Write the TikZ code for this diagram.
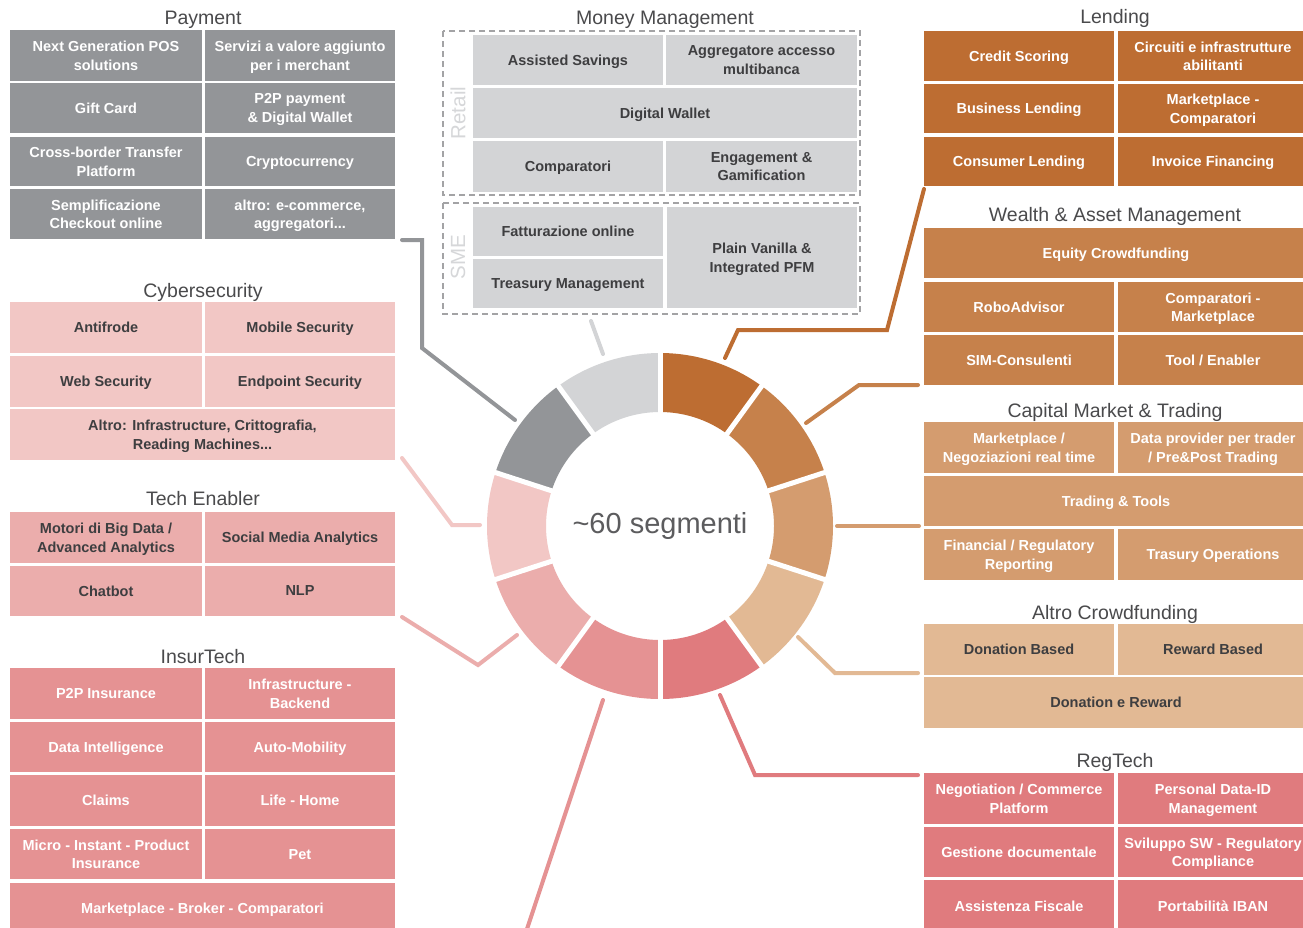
\documentclass[tikz,border=0pt]{standalone}
\usepackage{fontspec}
\setmainfont{Liberation Sans}
\definecolor{payC}{HTML}{939598}
\definecolor{monC}{HTML}{D3D4D6}
\definecolor{cybC}{HTML}{F2C7C5}
\definecolor{tecC}{HTML}{EBADAC}
\definecolor{insC}{HTML}{E59293}
\definecolor{lenC}{HTML}{BD6D32}
\definecolor{weaC}{HTML}{C6814B}
\definecolor{capC}{HTML}{D49C6F}
\definecolor{croC}{HTML}{E2B994}
\definecolor{regC}{HTML}{E07B7E}
\definecolor{txtD}{HTML}{3E3E40}
\definecolor{ttlC}{HTML}{4A4A4C}
\definecolor{zoneC}{HTML}{A3A3A5}
\definecolor{zoneT}{HTML}{D6D7D9}
% box from (x1,y1) to (x2,y2): style, name, x1, y1, x2, y2, text
\newcommand\bx[7]{%
  \pgfmathsetmacro\bxw{#5-#3}\pgfmathsetmacro\bxh{#6-#4}%
  \node[#1, anchor=north west, minimum width=\bxw pt, minimum height=\bxh pt] (#2) at (#3,#4) {#7};}
\begin{document}
\begin{tikzpicture}[x=1pt,y=-1pt,
  cell/.style={inner sep=0pt, outer sep=0pt, align=center, text depth=0pt,
    font=\bfseries\fontsize{14.5}{18.5}\selectfont},
  light/.style={cell, text=white},
  dark/.style={cell, text=txtD},
  grp/.style={anchor=base, text=ttlC, inner sep=0pt, font=\fontsize{19.5}{23}\selectfont},
  link/.style={line width=4pt, line cap=round, line join=miter},
  zone/.style={draw=zoneC, line width=1.3pt, dash pattern=on 6pt off 4pt},
  zonelbl/.style={text=zoneT, rotate=90, inner sep=0pt, font=\fontsize{20.5}{24}\selectfont}]
\useasboundingbox (0,0) rectangle (1303,927);
\fill[white] (0,0) rectangle (1303,927);

% ---------- Payment ----------
\node[grp] (tPay) at (203,24) {Payment};
\bx{light,fill=payC}{pay1}{10}{30}{202}{81}{Next Generation POS\\solutions}
\bx{light,fill=payC}{pay2}{205}{30}{395}{81}{Servizi a valore aggiunto\\per i merchant}
\bx{light,fill=payC}{pay3}{10}{83}{202}{133}{Gift Card}
\bx{light,fill=payC}{pay4}{205}{83}{395}{133}{P2P payment\\\& Digital Wallet}
\bx{light,fill=payC}{pay5}{10}{137}{202}{186}{Cross-border Transfer\\Platform}
\bx{light,fill=payC}{pay6}{205}{137}{395}{186}{Cryptocurrency}
\bx{light,fill=payC}{pay7}{10}{189}{202}{239}{Semplificazione\\Checkout online}
\bx{light,fill=payC}{pay8}{205}{189}{395}{239}{altro: e-commerce,\\aggregatori...}

% ---------- Cybersecurity ----------
\node[grp] (tCyb) at (203,297) {Cybersecurity};
\bx{dark,fill=cybC}{cyb1}{10}{302}{202}{353}{Antifrode}
\bx{dark,fill=cybC}{cyb2}{205}{302}{395}{353}{Mobile Security}
\bx{dark,fill=cybC}{cyb3}{10}{356}{202}{407}{Web Security}
\bx{dark,fill=cybC}{cyb4}{205}{356}{395}{407}{Endpoint Security}
\bx{dark,fill=cybC}{cyb5}{10}{409}{395}{460}{Altro: Infrastructure, Crittografia,\\Reading Machines...}

% ---------- Tech Enabler ----------
\node[grp] (tTec) at (203,505) {Tech Enabler};
\bx{dark,fill=tecC}{tec1}{10}{512}{202}{563}{Motori di Big Data /\\Advanced Analytics}
\bx{dark,fill=tecC}{tec2}{205}{512}{395}{563}{Social Media Analytics}
\bx{dark,fill=tecC}{tec3}{10}{566}{202}{616}{Chatbot}
\bx{dark,fill=tecC}{tec4}{205}{566}{395}{616}{NLP}

% ---------- InsurTech ----------
\node[grp] (tIns) at (203,663) {InsurTech};
\bx{light,fill=insC}{ins1}{10}{668}{202}{719}{P2P Insurance}
\bx{light,fill=insC}{ins2}{205}{668}{395}{719}{Infrastructure -\\Backend}
\bx{light,fill=insC}{ins3}{10}{722}{202}{772}{Data Intelligence}
\bx{light,fill=insC}{ins4}{205}{722}{395}{772}{Auto-Mobility}
\bx{light,fill=insC}{ins5}{10}{775}{202}{826}{Claims}
\bx{light,fill=insC}{ins6}{205}{775}{395}{826}{Life - Home}
\bx{light,fill=insC}{ins7}{10}{829}{202}{879}{Micro - Instant - Product\\Insurance}
\bx{light,fill=insC}{ins8}{205}{829}{395}{879}{Pet}
\bx{light,fill=insC}{ins9}{10}{883}{395}{933}{Marketplace - Broker - Comparatori}

% ---------- Money Management ----------
\node[grp] (tMon) at (665,24) {Money Management};
\draw[zone] (443,31) rectangle (860,195);
\draw[zone] (443,203) rectangle (860,314);
\node[zonelbl] (lRet) at (458,113) {Retail};
\node[zonelbl] (lSme) at (458,257) {SME};
\bx{dark,fill=monC}{mon1}{473}{35}{663}{85}{Assisted Savings}
\bx{dark,fill=monC}{mon2}{666}{35}{857}{85}{Aggregatore accesso\\multibanca}
\bx{dark,fill=monC}{mon3}{473}{88}{857}{138}{Digital Wallet}
\bx{dark,fill=monC}{mon4}{473}{141}{663}{192}{Comparatori}
\bx{dark,fill=monC}{mon5}{666}{141}{857}{192}{Engagement \&\\Gamification}
\bx{dark,fill=monC}{mon6}{473}{207}{663}{256}{Fatturazione online}
\bx{dark,fill=monC}{mon7}{473}{259}{663}{308}{Treasury Management}
\bx{dark,fill=monC}{mon8}{667}{207}{857}{308}{Plain Vanilla \&\\Integrated PFM}

% ---------- Lending ----------
\node[grp] (tLen) at (1115,23) {Lending};
\bx{light,fill=lenC}{len1}{924}{31}{1114}{81}{Credit Scoring}
\bx{light,fill=lenC}{len2}{1118}{31}{1308}{81}{Circuiti e infrastrutture\\abilitanti}
\bx{light,fill=lenC}{len3}{924}{84}{1114}{133}{Business Lending}
\bx{light,fill=lenC}{len4}{1118}{84}{1308}{133}{Marketplace -\\Comparatori}
\bx{light,fill=lenC}{len5}{924}{137}{1114}{186}{Consumer Lending}
\bx{light,fill=lenC}{len6}{1118}{137}{1308}{186}{Invoice Financing}

% ---------- Wealth & Asset Management ----------
\node[grp] (tWea) at (1115,221) {Wealth \& Asset Management};
\bx{light,fill=weaC}{wea1}{924}{228}{1308}{278}{Equity Crowdfunding}
\bx{light,fill=weaC}{wea2}{924}{282}{1114}{332}{RoboAdvisor}
\bx{light,fill=weaC}{wea3}{1118}{282}{1308}{332}{Comparatori -\\Marketplace}
\bx{light,fill=weaC}{wea4}{924}{335}{1114}{385}{SIM-Consulenti}
\bx{light,fill=weaC}{wea5}{1118}{335}{1308}{385}{Tool / Enabler}

% ---------- Capital Market & Trading ----------
\node[grp] (tCap) at (1115,417) {Capital Market \& Trading};
\bx{light,fill=capC}{cap1}{924}{422}{1114}{473}{Marketplace /\\Negoziazioni real time}
\bx{light,fill=capC}{cap2}{1118}{422}{1308}{473}{Data provider per trader\\/ Pre\&Post Trading}
\bx{light,fill=capC}{cap3}{924}{476}{1308}{526}{Trading \& Tools}
\bx{light,fill=capC}{cap4}{924}{529}{1114}{580}{Financial / Regulatory\\Reporting}
\bx{light,fill=capC}{cap5}{1118}{529}{1308}{580}{Trasury Operations}

% ---------- Altro Crowdfunding ----------
\node[grp] (tCro) at (1115,619) {Altro Crowdfunding};
\bx{dark,fill=croC}{cro1}{924}{624}{1114}{675}{Donation Based}
\bx{dark,fill=croC}{cro2}{1118}{624}{1308}{675}{Reward Based}
\bx{dark,fill=croC}{cro3}{924}{677}{1308}{728}{Donation e Reward}

% ---------- RegTech ----------
\node[grp] (tReg) at (1115,767) {RegTech};
\bx{light,fill=regC}{reg1}{924}{773}{1114}{824}{Negotiation / Commerce\\Platform}
\bx{light,fill=regC}{reg2}{1118}{773}{1308}{824}{Personal Data-ID\\Management}
\bx{light,fill=regC}{reg3}{924}{827}{1114}{877}{Gestione documentale}
\bx{light,fill=regC}{reg4}{1118}{827}{1308}{877}{Sviluppo SW - Regulatory\\Compliance}
\bx{light,fill=regC}{reg5}{924}{880}{1114}{932}{Assistenza Fiscale}
\bx{light,fill=regC}{reg6}{1118}{880}{1308}{932}{Portabilità IBAN}

% ---------- segment ring ----------
\begin{scope}[shift={(660,526)}]
  \foreach \t/\c in {-90/lenC, -54/weaC, -18/capC, 18/croC, 54/regC,
                     90/insC, 126/tecC, 162/cybC, 198/payC, 234/monC}{
    \pgfmathsetmacro\tt{\t+36}
    \fill[\c] (\t:173) arc[start angle=\t, end angle=\tt, radius=173]
      -- (\tt:114) arc[start angle=\tt, end angle=\t, radius=114] -- cycle;
  }
  \foreach \t in {-90,-54,...,234}
    \draw[white, line width=5pt] (\t:110) -- (\t:177);
\end{scope}
\node[text=ttlC!90, font=\fontsize{29}{34}\selectfont] (core) at (660,526) {\textasciitilde 60 segmenti};

% ---------- connectors: ring segment -> group ----------
\coordinate (rMon) at (603,354);  \coordinate (eMon) at (591,321);
\coordinate (rLen) at (725,358);
\coordinate (rWea) at (806,423);  \coordinate (eWea) at (918,385);
\coordinate (rCap) at (837,526);  \coordinate (eCap) at (919,526);
\coordinate (rCro) at (798,637);  \coordinate (eCro) at (918,673);
\coordinate (rReg) at (720,695);  \coordinate (eReg) at (918,775);
\coordinate (rIns) at (603,700);  \coordinate (eIns) at (526,932);
\coordinate (rTec) at (517,635);  \coordinate (eTec) at (402,617);
\coordinate (rCyb) at (480,525);  \coordinate (eCyb) at (402,458);
\coordinate (rPay) at (515,420);  \coordinate (ePay) at (402,240);

\draw[link, monC] (rMon) -- (eMon);
\draw[link, lenC] (rLen) -- (738,330) -- (887,330) -- ([yshift=-3pt]len5.south west);
\draw[link, weaC] (rWea) -- (859,385) -- (eWea);
\draw[link, capC] (rCap) -- (eCap);
\draw[link, croC] (rCro) -- (835,673) -- (eCro);
\draw[link, regC] (rReg) -- (755,775) -- (eReg);
\draw[link, insC] (rIns) -- (eIns);
\draw[link, tecC] (rTec) -- (478,665) -- (eTec);
\draw[link, cybC] (rCyb) -- (452,525) -- (eCyb);
\draw[link, payC] (rPay) -- (422,348) -- (422,240) -- (ePay);
\end{tikzpicture}
\end{document}
